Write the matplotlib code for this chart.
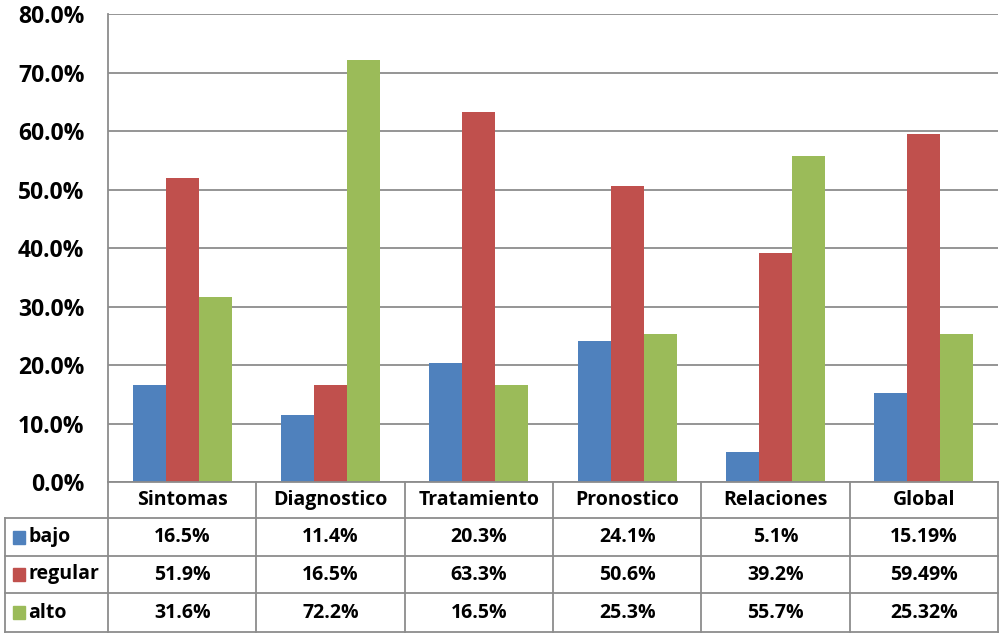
import matplotlib
matplotlib.use('Agg')
import matplotlib.pyplot as plt
import numpy as np

categories = ['Sintomas', 'Diagnostico', 'Tratamiento', 'Pronostico', 'Relaciones', 'Global']
series_names = ['bajo', 'regular', 'alto']
bajo = [16.5, 11.4, 20.3, 24.1, 5.1, 15.19]
regular = [51.9, 16.5, 63.3, 50.6, 39.2, 59.49]
alto = [31.6, 72.2, 16.5, 25.3, 55.7, 25.32]
bajo_labels = ['16.5%', '11.4%', '20.3%', '24.1%', '5.1%', '15.19%']
regular_labels = ['51.9%', '16.5%', '63.3%', '50.6%', '39.2%', '59.49%']
alto_labels = ['31.6%', '72.2%', '16.5%', '25.3%', '55.7%', '25.32%']
y_ticks = [0, 10, 20, 30, 40, 50, 60, 70, 80]

colors = ['#4F81BD', '#C0504D', '#9BBB59']
grid_col = '#8C8C8C'
font = ['Open Sans', 'DejaVu Sans']

W, H = 1000, 636
fig = plt.figure(figsize=(W / 100, H / 100), dpi=100)

# plot area in pixels
left, right, top, bottom = 108, 998, 14, 482
ax = fig.add_axes([left / W, 1 - bottom / H, (right - left) / W, (bottom - top) / H])

n = len(categories)
x = np.arange(n)
width = 0.222
for k, vals in enumerate([bajo, regular, alto]):
    ax.bar(x + (k - 1) * width, vals, width, color=colors[k], zorder=3)

ax.set_xlim(-0.5, n - 0.5)
ax.set_ylim(0, 80)
ax.set_yticks(y_ticks)
ax.set_yticklabels(['{:.1f}%'.format(v) for v in y_ticks], fontfamily=font,
                   fontweight='bold', fontsize=16.5)
ax.tick_params(axis='y', length=0, pad=17)
ax.set_xticks([])
ax.grid(axis='y', color=grid_col, linewidth=1.3, zorder=0)
for s in ['top', 'right', 'bottom']:
    ax.spines[s].set_visible(False)
ax.spines['left'].set_color(grid_col)
ax.spines['left'].set_linewidth(1.3)

# data table below the plot
tab = fig.add_axes([0, 0, 1, 1], facecolor='none')
tab.set_xlim(0, W)
tab.set_ylim(H, 0)
tab.axis('off')

col_w = (right - left) / n
row_y = [482, 518, 556, 593, 632]
tab_left = 5
lc = dict(color=grid_col, linewidth=1.3)

# horizontal lines
tab.plot([left, right], [row_y[0], row_y[0]], **lc)
for yy in row_y[1:]:
    tab.plot([tab_left, right], [yy, yy], **lc)
# vertical lines
for i in range(n + 1):
    xx = left + i * col_w
    tab.plot([xx, xx], [row_y[0], row_y[-1]], **lc)
tab.plot([tab_left, tab_left], [row_y[1], row_y[-1]], **lc)

tkw = dict(fontfamily=font, fontweight='bold', fontsize=14, ha='center', va='center')
for i, c in enumerate(categories):
    tab.text(left + (i + 0.5) * col_w, (row_y[0] + row_y[1]) / 2, c, **tkw)

rows = [bajo_labels, regular_labels, alto_labels]
for r, labels in enumerate(rows):
    yc = (row_y[r + 1] + row_y[r + 2]) / 2
    tab.add_patch(plt.Rectangle((13, yc - 6.5), 12, 13, color=colors[r]))
    tab.text(28, yc, series_names[r], fontfamily=font, fontweight='bold',
             fontsize=14, ha='left', va='center')
    for i, lab in enumerate(labels):
        tab.text(left + (i + 0.5) * col_w, yc, lab, **tkw)

fig.savefig('out.png', dpi=100)
